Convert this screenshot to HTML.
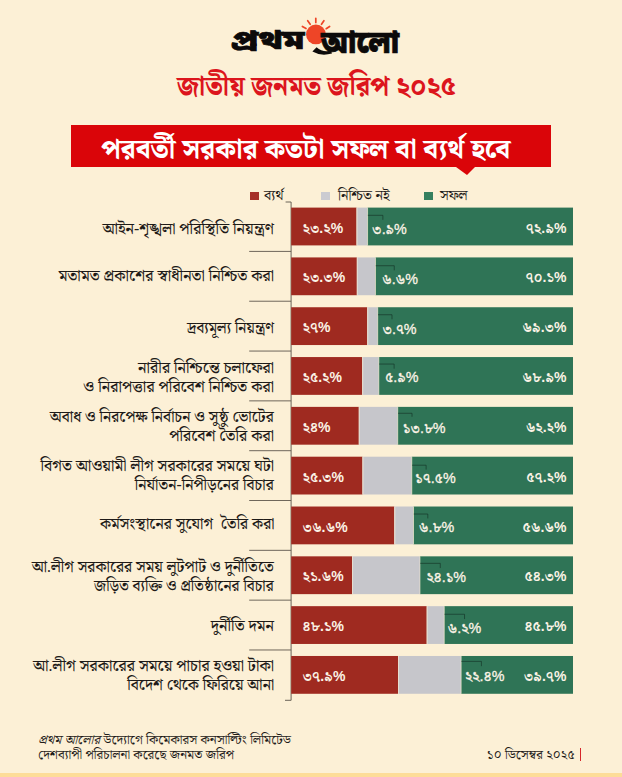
<!DOCTYPE html>
<html lang="bn">
<head>
<meta charset="utf-8">
<title>জাতীয় জনমত জরিপ ২০২৫</title>
<style>
html,body{margin:0;padding:0}
body{width:622px;height:777px;overflow:hidden;position:relative;background:#fcf0d6;color:#1d1a18;
 font-family:"Liberation Serif","Noto Serif Bengali","Tiro Bangla","Lohit Bengali","Noto Sans Bengali","FreeSerif",serif}
.abs{position:absolute}
.logo{position:absolute;left:0;top:0;width:622px;height:64px}
.l1,.l2{position:absolute;font-family:"Liberation Sans","Noto Sans Bengali","Hind Siliguri","Lohit Bengali",sans-serif;font-weight:900;color:#0c0a0a;-webkit-text-stroke:.7px #0c0a0a;white-space:nowrap;line-height:1}
.l1{left:231.2px;top:27.2px;font-size:26px;line-height:26px;transform:scaleX(1.315);transform-origin:0 0}
.l2{left:321px;top:27.4px;font-size:31.5px;line-height:31.5px;transform:scaleX(.92);transform-origin:0 0}
.sub{position:absolute;left:1px;width:631px;top:66px;text-align:center;font-size:26.6px;font-weight:800;color:#dc151d;white-space:nowrap;line-height:40px;transform:scaleX(.978);transform-origin:315.5px 50%}
.ban{position:absolute;left:71px;top:125px;width:479.5px;height:42px;background:#da0509;color:#fff;white-space:nowrap}
.ban span{position:absolute;left:-4.4px;top:1.5px;width:478px;text-align:center;font-size:27.6px;font-weight:800;line-height:43px;transform:scaleX(.974);transform-origin:50% 50%}
.tail{position:absolute;left:455.5px;top:166.5px;width:0;height:0;border-left:11.5px solid transparent;border-right:8.5px solid transparent;border-top:8.7px solid #da0509}
.leg{position:absolute;top:186px;font-size:14.3px;line-height:18px;white-space:nowrap}
.leg b{position:absolute;top:6.3px;width:9px;height:7.8px}
.lab{position:absolute;right:348px;height:38px;line-height:38px;font-size:15.8px;font-weight:500;text-align:right;white-space:nowrap}
.sx{display:inline-block;transform-origin:100% 50%}
.lab.two{line-height:19px;margin-top:1.2px}
.n{position:absolute;height:38px;line-height:38px;font-size:14px;font-weight:700;color:#fbf3e6;white-space:nowrap;font-family:"Liberation Sans","Noto Serif Bengali","Tiro Bangla","Lohit Bengali","Noto Sans Bengali",sans-serif}
.n.m{font-weight:500;font-size:14.3px;-webkit-text-stroke:.3px #fbf3e6}
.n.e{right:55.5px}
.foot{position:absolute;left:38.2px;top:732.6px;font-size:12.8px;line-height:15.1px;white-space:nowrap;transform:scaleX(1.03);transform-origin:0 0}
.date{position:absolute;right:47.3px;top:745.6px;font-size:13.1px;line-height:18px;white-space:nowrap}
.rbar{position:absolute;left:579.8px;top:747.8px;width:1.3px;height:13.5px;background:#d6262b}
.strip{position:absolute;left:0;top:773px;width:622px;height:4px;background:#fddc98}
</style>
</head>
<body>
<div class="logo">
 <svg class="abs" style="left:295px;top:12px" width="40" height="36" viewBox="295 12 40 36">
  <circle cx="315.9" cy="34.4" r="9.9" fill="#ee4527"/>
  <g stroke="#ee4527" stroke-width="1.7" stroke-linecap="round">
   <line x1="315.8" y1="18.4" x2="315.8" y2="22.4"/>
   <line x1="307.7" y1="20.7" x2="310.2" y2="24.3"/>
   <line x1="323.9" y1="20.7" x2="321.5" y2="24.3"/>
   <line x1="302.4" y1="26.5" x2="306" y2="28.5"/>
   <line x1="329.6" y1="26.5" x2="326.2" y2="28.7"/>
  </g>
 </svg>
 <div class="l1">প্রথম</div>
 <div class="l2">আলো</div>
 <svg class="abs" style="left:308px;top:42px" width="30" height="16" viewBox="308 42 30 16"><path d="M312.4 51.6 L316.6 47.2 Q322.5 52.6 331 50.6 L332 53.6 Q320.5 56.4 312.4 51.6Z" fill="#0c0a0a"/></svg>
</div>
<div class="sub">জাতীয় জনমত জরিপ ২০২৫</div>
<div class="ban"><span>পরবর্তী সরকার কতটা সফল বা ব্যর্থ হবে</span></div>
<div class="tail"></div>
<div class="leg" style="left:264px"><b style="left:-14.3px;background:#a63028"></b>ব্যর্থ</div>
<div class="leg" style="left:338px"><b style="left:-16.7px;background:#cbcbd1"></b>নিশ্চিত নই</div>
<div class="leg" style="left:440px"><b style="left:-16.2px;background:#36805f"></b>সফল</div>

<svg class="abs" style="left:0;top:0" width="622" height="777" viewBox="0 0 622 777">
<path d="M285.6 202H291.1V700.3H285" fill="none" stroke="#5a5249" stroke-width=".9"/>
<rect x="291.20" y="207.60" width="65.38" height="37.8" fill="#9f2a20"/>
<rect x="356.58" y="207.60" width="10.99" height="37.8" fill="#c6c6cb"/>
<rect x="367.57" y="207.60" width="205.43" height="37.8" fill="#2f7456"/>
<path d="M357.08 207.60v37.8M367.57 207.60v37.8" stroke="#fcf0d6" stroke-opacity=".6" stroke-width="1"/>
<path d="M367.87 215.30h15.0v4.5" fill="none" stroke="#143226" stroke-opacity=".8" stroke-width=".8"/>
<path d="M249.2 251.41H291.1" stroke="#5f574d" stroke-width=".9"/>
<rect x="291.20" y="257.42" width="65.66" height="37.8" fill="#9f2a20"/>
<rect x="356.86" y="257.42" width="18.60" height="37.8" fill="#c6c6cb"/>
<rect x="375.46" y="257.42" width="197.54" height="37.8" fill="#2f7456"/>
<path d="M357.36 257.42v37.8M375.46 257.42v37.8" stroke="#fcf0d6" stroke-opacity=".6" stroke-width="1"/>
<path d="M375.76 265.72h18.5v4.6" fill="none" stroke="#143226" stroke-opacity=".8" stroke-width=".8"/>
<path d="M249.2 301.23H291.1" stroke="#5f574d" stroke-width=".9"/>
<rect x="291.20" y="307.24" width="76.09" height="37.8" fill="#9f2a20"/>
<rect x="367.29" y="307.24" width="10.43" height="37.8" fill="#c6c6cb"/>
<rect x="377.71" y="307.24" width="195.29" height="37.8" fill="#2f7456"/>
<path d="M367.79 307.24v37.8M377.71 307.24v37.8" stroke="#fcf0d6" stroke-opacity=".6" stroke-width="1"/>
<path d="M378.01 314.74h14.0v4.5" fill="none" stroke="#143226" stroke-opacity=".8" stroke-width=".8"/>
<path d="M249.2 351.05H291.1" stroke="#5f574d" stroke-width=".9"/>
<rect x="291.20" y="357.06" width="71.01" height="37.8" fill="#9f2a20"/>
<rect x="362.21" y="357.06" width="16.63" height="37.8" fill="#c6c6cb"/>
<rect x="378.84" y="357.06" width="194.16" height="37.8" fill="#2f7456"/>
<path d="M362.71 357.06v37.8M378.84 357.06v37.8" stroke="#fcf0d6" stroke-opacity=".6" stroke-width="1"/>
<path d="M379.14 364.06h15.0v4.6" fill="none" stroke="#143226" stroke-opacity=".8" stroke-width=".8"/>
<path d="M249.2 400.87H291.1" stroke="#5f574d" stroke-width=".9"/>
<rect x="291.20" y="406.88" width="67.63" height="37.8" fill="#9f2a20"/>
<rect x="358.83" y="406.88" width="38.89" height="37.8" fill="#c6c6cb"/>
<rect x="397.72" y="406.88" width="175.28" height="37.8" fill="#2f7456"/>
<path d="M359.33 406.88v37.8M397.72 406.88v37.8" stroke="#fcf0d6" stroke-opacity=".6" stroke-width="1"/>
<path d="M398.02 413.28h14.0v3.5" fill="none" stroke="#143226" stroke-opacity=".8" stroke-width=".8"/>
<path d="M249.2 450.69H291.1" stroke="#5f574d" stroke-width=".9"/>
<rect x="291.20" y="456.70" width="71.30" height="37.8" fill="#9f2a20"/>
<rect x="362.50" y="456.70" width="49.31" height="37.8" fill="#c6c6cb"/>
<rect x="411.81" y="456.70" width="161.19" height="37.8" fill="#2f7456"/>
<path d="M363.00 456.70v37.8M411.81 456.70v37.8" stroke="#fcf0d6" stroke-opacity=".6" stroke-width="1"/>
<path d="M412.11 465.20h14.0v4.4" fill="none" stroke="#143226" stroke-opacity=".8" stroke-width=".8"/>
<path d="M249.2 500.51H291.1" stroke="#5f574d" stroke-width=".9"/>
<rect x="291.20" y="506.52" width="103.14" height="37.8" fill="#9f2a20"/>
<rect x="394.34" y="506.52" width="19.16" height="37.8" fill="#c6c6cb"/>
<rect x="413.50" y="506.52" width="159.50" height="37.8" fill="#2f7456"/>
<path d="M394.84 506.52v37.8M413.50 506.52v37.8" stroke="#fcf0d6" stroke-opacity=".6" stroke-width="1"/>
<path d="M413.80 514.02h14.0v4.4" fill="none" stroke="#143226" stroke-opacity=".8" stroke-width=".8"/>
<path d="M249.2 550.33H291.1" stroke="#5f574d" stroke-width=".9"/>
<rect x="291.20" y="556.34" width="60.87" height="37.8" fill="#9f2a20"/>
<rect x="352.07" y="556.34" width="67.91" height="37.8" fill="#c6c6cb"/>
<rect x="419.98" y="556.34" width="153.02" height="37.8" fill="#2f7456"/>
<path d="M352.57 556.34v37.8M419.98 556.34v37.8" stroke="#fcf0d6" stroke-opacity=".6" stroke-width="1"/>
<path d="M420.28 563.34h20.0v4.7" fill="none" stroke="#143226" stroke-opacity=".8" stroke-width=".8"/>
<path d="M249.2 600.15H291.1" stroke="#5f574d" stroke-width=".9"/>
<rect x="291.20" y="606.16" width="135.55" height="37.8" fill="#9f2a20"/>
<rect x="426.75" y="606.16" width="17.47" height="37.8" fill="#c6c6cb"/>
<rect x="444.22" y="606.16" width="128.78" height="37.8" fill="#2f7456"/>
<path d="M427.25 606.16v37.8M444.22 606.16v37.8" stroke="#fcf0d6" stroke-opacity=".6" stroke-width="1"/>
<path d="M444.52 614.26h20.0v4.8" fill="none" stroke="#143226" stroke-opacity=".8" stroke-width=".8"/>
<path d="M249.2 649.97H291.1" stroke="#5f574d" stroke-width=".9"/>
<rect x="291.20" y="655.98" width="106.80" height="37.8" fill="#9f2a20"/>
<rect x="398.00" y="655.98" width="63.12" height="37.8" fill="#c6c6cb"/>
<rect x="461.13" y="655.98" width="111.87" height="37.8" fill="#2f7456"/>
<path d="M398.50 655.98v37.8M461.13 655.98v37.8" stroke="#fcf0d6" stroke-opacity=".6" stroke-width="1"/>
<path d="M461.43 661.38h20.0v4.8" fill="none" stroke="#143226" stroke-opacity=".8" stroke-width=".8"/>
</svg>
<div class="lab" style="top:210.1px">আইন-শৃঙ্খলা পরিস্থিতি নিয়ন্ত্রণ</div>
<div class="n r" style="left:302.5px;top:208.6px">২৩.২%</div>
<div class="n m" style="left:372.1px;top:210.0px">৩.৯%</div>
<div class="n e" style="top:208.6px">৭২.৯%</div>
<div class="lab" style="top:257.4px">মতামত প্রকাশের স্বাধীনতা নিশ্চিত করা</div>
<div class="n r" style="left:302.5px;top:258.4px">২৩.৩%</div>
<div class="n m" style="left:381.9px;top:259.8px">৬.৬%</div>
<div class="n e" style="top:258.4px">৭০.১%</div>
<div class="lab" style="top:309.4px"><span class="sx" style="transform:scaleX(0.957)">দ্রব্যমূল্য নিয়ন্ত্রণ</span></div>
<div class="n r" style="left:302.5px;top:308.2px">২৭%</div>
<div class="n m" style="left:382.4px;top:309.5px">৩.৭%</div>
<div class="n e" style="top:308.2px">৬৯.৩%</div>
<div class="lab two" style="top:357.1px">নারীর নিশ্চিন্তে চলাফেরা<br>ও নিরাপত্তার পরিবেশ নিশ্চিত করা</div>
<div class="n r" style="left:302.5px;top:358.1px">২৫.২%</div>
<div class="n m" style="left:385.0px;top:358.1px">৫.৯%</div>
<div class="n e" style="top:358.1px">৬৮.৯%</div>
<div class="lab two" style="top:406.1px"><span class="sx" style="transform:scaleX(0.975)">অবাধ ও নিরপেক্ষ নির্বাচন ও সুষ্ঠু ভোটের</span><br>পরিবেশ তৈরি করা</div>
<div class="n r" style="left:302.5px;top:407.9px">২৪%</div>
<div class="n m" style="left:402.8px;top:408.5px">১৩.৮%</div>
<div class="n e" style="top:407.9px">৬২.২%</div>
<div class="lab two" style="top:455.1px">বিগত আওয়ামী লীগ সরকারের সময়ে ঘটা<br><span class="sx" style="transform:scaleX(0.98)">নির্যাতন-নিপীড়নের বিচার</span></div>
<div class="n r" style="left:302.5px;top:457.7px">২৫.৩%</div>
<div class="n m" style="left:415.1px;top:458.6px">১৭.৫%</div>
<div class="n e" style="top:457.7px">৫৭.২%</div>
<div class="lab" style="top:504.7px"><span class="sx" style="transform:scaleX(0.983)">কর্মসংস্থানের সুযোগ&nbsp; তৈরি করা</span></div>
<div class="n r" style="left:302.5px;top:507.5px">৩৬.৬%</div>
<div class="n m" style="left:418.8px;top:508.2px">৬.৮%</div>
<div class="n e" style="top:507.5px">৫৬.৬%</div>
<div class="lab two" style="top:556.3px"><span class="sx" style="transform:scaleX(0.985)">আ.লীগ সরকারের সময় লুটপাট ও দুর্নীতিতে</span><br><span class="sx" style="transform:scaleX(0.968)">জড়িত ব্যক্তি ও প্রতিষ্ঠানের বিচার</span></div>
<div class="n r" style="left:302.5px;top:557.3px">২১.৬%</div>
<div class="n m" style="left:426.4px;top:558.2px">২৪.১%</div>
<div class="n e" style="top:557.3px">৫৪.৩%</div>
<div class="lab" style="top:607.2px">দুর্নীতি দমন</div>
<div class="n r" style="left:302.5px;top:607.2px">৪৮.১%</div>
<div class="n m" style="left:447.5px;top:608.7px">৬.২%</div>
<div class="n e" style="top:607.2px">৪৫.৮%</div>
<div class="lab two" style="top:654.7px">আ.লীগ সরকারের সময়ে পাচার হওয়া টাকা<br><span class="sx" style="transform:scaleX(0.985)">বিদেশ থেকে ফিরিয়ে আনা</span></div>
<div class="n r" style="left:302.5px;top:657.0px">৩৭.৯%</div>
<div class="n m" style="left:465.1px;top:656.9px">২২.৪%</div>
<div class="n e" style="top:657.0px">৩৯.৭%</div>
<div class="foot"><i>প্রথম আলোর</i> উদ্যোগে কিমেকারস কনসাল্টিং লিমিটেড<br>দেশব্যাপী পরিচালনা করেছে জনমত জরিপ</div>
<div class="date">১০ ডিসেম্বর ২০২৫</div>
<div class="rbar"></div>
<div class="strip"></div>
</body>
</html>
